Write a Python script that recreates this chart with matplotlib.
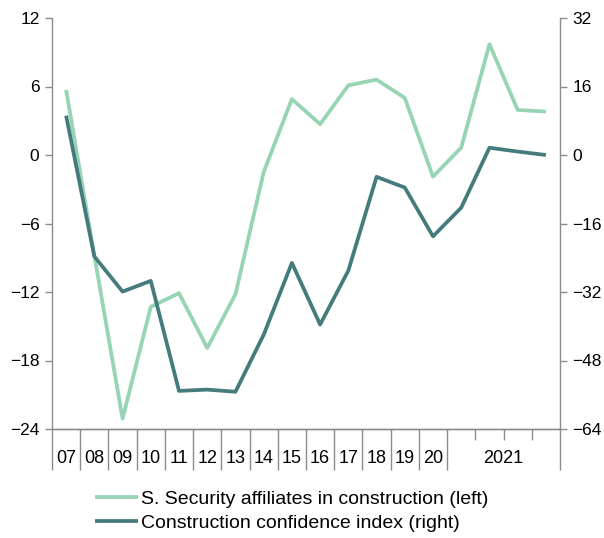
import numpy as np
import matplotlib
matplotlib.use("Agg")
from matplotlib import pyplot as plt

plt.rcParams["font.family"] = ["Liberation Sans", "DejaVu Sans"]

YEAR_LABELS = ["07", "08", "09", "10", "11", "12", "13", "14", "15", "16",
               "17", "18", "19", "20"]
QUARTER_LABEL = "2021"
N_QUARTERS = 4

AFFILIATES = [5.7, -8.8, -23.1, -13.3, -12.1, -16.9, -12.2, -1.5, 4.9, 2.7,
              6.1, 6.6, 5.0, -1.9, 0.65, 9.7, 3.95, 3.8]
CONFIDENCE = [9.2, -23.7, -31.9, -29.4, -55.1, -54.8, -55.3, -42.0, -25.2, -39.6,
              -27.0, -5.1, -7.6, -19.0, -12.3, 1.7, 0.8, 0.0]

GREEN = "#96d4b4"
TEAL = "#457b7d"
AXIS_GREY = "#8c8c8c"

W, H = 604, 538
fig = plt.figure(figsize=(W / 100, H / 100), dpi=100)
ax = fig.add_axes([52 / W, 1 - 429 / H, (560 - 52) / W, (429 - 18) / H])
ax2 = ax.twinx()

x = np.arange(len(AFFILIATES))
ax.plot(x, AFFILIATES, color=GREEN, linewidth=2.7, solid_capstyle="butt",
        label="S. Security affiliates in construction (left)", zorder=2)
ax2.plot(x, CONFIDENCE, color=TEAL, linewidth=2.7, solid_capstyle="butt",
         label="Construction confidence index (right)", zorder=3)

n = len(AFFILIATES)
ax.set_xlim(-0.5, n - 0.5)
ax.set_ylim(-24, 12)
ax.set_yticks(np.arange(-24, 13, 6))
ax2.set_ylim(-64, 32)
ax2.set_yticks(np.arange(-64, 33, 16))

for a in (ax, ax2):
    a.spines["top"].set_visible(False)
    for s in ("left", "right", "bottom"):
        a.spines[s].set_color(AXIS_GREY)
        a.spines[s].set_linewidth(1.0)
    a.tick_params(axis="y", direction="out", length=5, width=1.0,
                  color=AXIS_GREY, labelsize=12.5, pad=4)
ax.spines["right"].set_visible(False)
ax2.spines["left"].set_visible(False)

# category axis: long separators between years, short ones inside 2021
n_years = len(YEAR_LABELS)
long_bounds = list(np.arange(-0.5, n_years, 1.0)) + [n - 0.5]
short_bounds = list(np.arange(n_years + 0.5, n - 0.5, 1.0))
ax.set_xticks(long_bounds)
ax.set_xticklabels([])
ax.tick_params(axis="x", which="major", direction="out", length=29.5,
               width=1.0, color=AXIS_GREY)
label_pos = list(range(n_years)) + [n_years + (N_QUARTERS - 1) / 2]
ax.set_xticks(label_pos, minor=True)
ax.set_xticklabels(YEAR_LABELS + [QUARTER_LABEL], minor=True)
ax.tick_params(axis="x", which="minor", length=0, labelsize=13, pad=15)
ax.vlines(short_bounds, 0, -0.027, transform=ax.get_xaxis_transform(),
          color=AXIS_GREY, linewidth=1.0, clip_on=False)

h1, l1 = ax.get_legend_handles_labels()
h2, l2 = ax2.get_legend_handles_labels()
fig.legend(h1 + h2, l1 + l2, loc="upper left",
           bbox_to_anchor=(95 / W, 1 - 490 / H), frameon=False, fontsize=14,
           handlelength=2.2, handletextpad=0.15, labelspacing=0.36,
           borderpad=0, borderaxespad=0)

fig.savefig("out.png", dpi=100)
